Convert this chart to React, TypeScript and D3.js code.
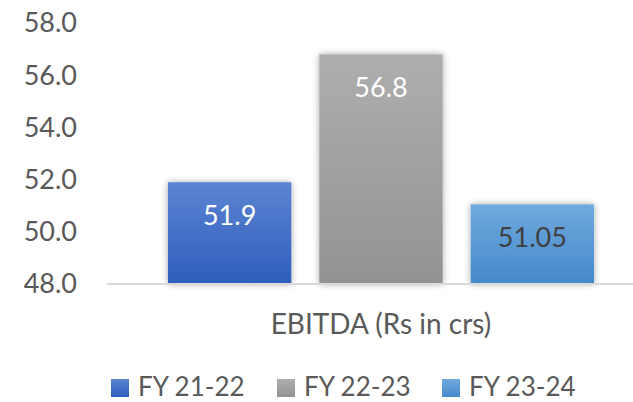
import React from "react";
import * as d3 from "d3";

const categories = ["EBITDA (Rs in crs)"];
const seriesNames = ["FY 21-22", "FY 22-23", "FY 23-24"];
const seriesValues = [51.9, 56.8, 51.05];
const valueLabels = ["51.9", "56.8", "51.05"];
const yTicks = [48, 50, 52, 54, 56, 58];

const W = 633;
const H = 402;
const FONT = "Lato, 'Open Sans', sans-serif";

const gradients = [
  { top: "#5C84D2", bottom: "#2E5DBC" },
  { top: "#AEAEAE", bottom: "#939393" },
  { top: "#70A9DE", bottom: "#4489CB" },
];
const labelColors = ["#FFFFFF", "#FFFFFF", "#404040"];

export default function App() {
  const y = d3.scaleLinear().domain([48, 58]).range([284, 23]);
  const x0 = d3
    .scaleBand<string>()
    .domain(categories)
    .range([107, 655])
    .paddingOuter(0.143)
    .paddingInner(0);
  const x1 = d3
    .scaleBand<string>()
    .domain(seriesNames)
    .range([0, x0.bandwidth()])
    .paddingInner(0.185)
    .paddingOuter(0);

  const legendX = [111, 277, 442];

  return (
    <div style={{ position: "absolute", left: 0, top: 0 }}>
      <svg width={W} height={H} style={{ display: "block", background: "#fff" }}>
        <defs>
          {gradients.map((g, i) => (
            <linearGradient key={i} id={`g${i}`} x1="0" y1="0" x2="0" y2="1">
              <stop offset="0%" stopColor={g.top} />
              <stop offset="100%" stopColor={g.bottom} />
            </linearGradient>
          ))}
          <filter id="shadow" x="-20%" y="-20%" width="140%" height="140%">
            <feGaussianBlur in="SourceAlpha" stdDeviation="3.5" />
            <feComponentTransfer>
              <feFuncA type="linear" slope="0.35" />
            </feComponentTransfer>
            <feMerge>
              <feMergeNode />
              <feMergeNode in="SourceGraphic" />
            </feMerge>
          </filter>
        </defs>

        {yTicks.map((t) => (
          <text
            key={t}
            x={77}
            y={y(t)}
            dy="0.35em"
            textAnchor="end"
            fontFamily={FONT}
            fontSize={27}
            fill="#595959"
          >
            {t.toFixed(1)}
          </text>
        ))}

        {categories.map((c) => (
          <g key={c} transform={`translate(${x0(c)},0)`}>
            {seriesNames.map((s, i) => {
              const bx = x1(s)!;
              const top = y(seriesValues[i]);
              return (
                <rect
                  key={s}
                  x={bx}
                  y={top}
                  width={x1.bandwidth()}
                  height={y(48) - top}
                  fill={`url(#g${i})`}
                  filter="url(#shadow)"
                />
              );
            })}
          </g>
        ))}

        <line x1={107} x2={633} y1={y(48)} y2={y(48)} stroke="#D9D9D9" strokeWidth={2} />

        {categories.map((c) => (
          <g key={`lbl${c}`} transform={`translate(${x0(c)},0)`}>
            {seriesNames.map((s, i) => (
              <text
                key={s}
                x={x1(s)! + x1.bandwidth() / 2}
                y={y(seriesValues[i]) + 43}
                textAnchor="middle"
                fontFamily={FONT}
                fontSize={27}
                fill={labelColors[i]}
              >
                {valueLabels[i]}
              </text>
            ))}
            <text
              x={x0.bandwidth() / 2}
              y={334}
              textAnchor="middle"
              fontFamily={FONT}
              fontSize={28}
              fill="#595959"
            >
              {c}
            </text>
          </g>
        ))}

        {seriesNames.map((s, i) => (
          <g key={s} transform={`translate(${legendX[i]},0)`}>
            <rect x={0} y={379} width={18} height={18} fill={`url(#g${i})`} />
            <text x={27} y={396} fontFamily={FONT} fontSize={26} fill="#595959">
              {s}
            </text>
          </g>
        ))}
      </svg>
    </div>
  );
}
